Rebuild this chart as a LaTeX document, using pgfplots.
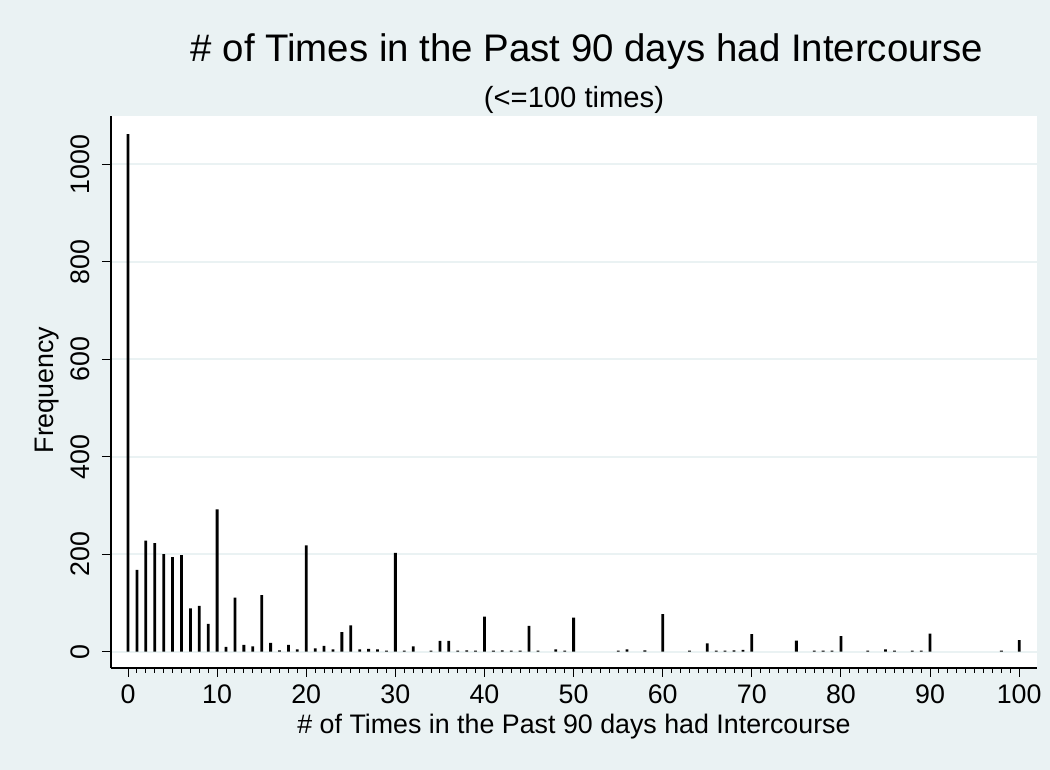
\documentclass[border=0pt]{standalone}
\usepackage{pgfplots}
\pgfplotsset{compat=1.18}
\usepackage{fontspec}
\setmainfont{Liberation Sans}
\definecolor{bgc}{RGB}{234,242,243}
\begin{document}
\begin{tikzpicture}
\fill[bgc] (-55.5pt,-51pt) rectangle (469.5pt,334pt);
\begin{axis}[
  at={(0pt,0pt)}, anchor=south west,
  scale only axis, width=463pt, height=276pt,
  xmin=-1.91, xmax=102.0, ymin=-33.4, ymax=1099,
  axis x line*=bottom, axis y line*=left,
  axis line style={black, line width=0.6pt, -},
  axis background/.style={fill=white},
  xtick={0,10,...,100}, minor x tick num=9,
  ytick={0,200,...,1000},
  tick align=outside, major tick length=4.5pt, minor tick length=2.5pt,
  tick style={black, line width=0.5pt},
  ymajorgrids, major grid style={draw=bgc, line width=1pt},
  yticklabel style={rotate=90, anchor=south},
  yticklabel shift=2.5pt,
  xticklabel shift=0.5pt,
  ticklabel style={font=\fontsize{13.4}{16}\selectfont},
  /pgf/number format/assume math mode=true,
  /pgf/number format/1000 sep={},
  scaled y ticks=false,
  xlabel={\# of Times in the Past 90 days had Intercourse},
  xlabel style={font=\fontsize{13.4}{16}\selectfont, at={(axis description cs:0.5,0)}, anchor=center, yshift=-29.5pt},
]
\addplot[ybar, bar width=1.4pt, fill=black, draw=none] table {
x y
0 1062
1 168
2 228
3 223
4 200
5 194
6 198
7 89
8 94
9 57
10 292
11 10
12 111
13 14
14 11
15 116
16 18
17 3
18 14
19 5
20 218
21 7
22 12
23 5
24 40
25 54
26 5
27 6
28 5
29 2
30 203
31 2
32 11
34 2
35 22
36 22
37 2
38 3
39 2
40 72
41 2
42 3
43 2
44 2
45 53
46 2
48 5
49 2
50 70
55 2
56 5
58 3
60 77
63 2
65 17
66 2
67 2
68 3
69 4
70 36
75 23
77 2
78 2
79 2
80 32
83 2
85 5
86 2
88 2
89 2
90 37
98 2
100 24
};
\end{axis}
\node[font=\fontsize{19.2}{23}\selectfont] at (238pt,308pt) {\# of Times in the Past 90 days had Intercourse};
\node[font=\fontsize{14.6}{17}\selectfont] at (231.5pt,284pt) {(<=100 times)};
\node[rotate=90, font=\fontsize{13.4}{16}\selectfont] at (-32pt,139pt) {Frequency};
\end{tikzpicture}
\end{document}
